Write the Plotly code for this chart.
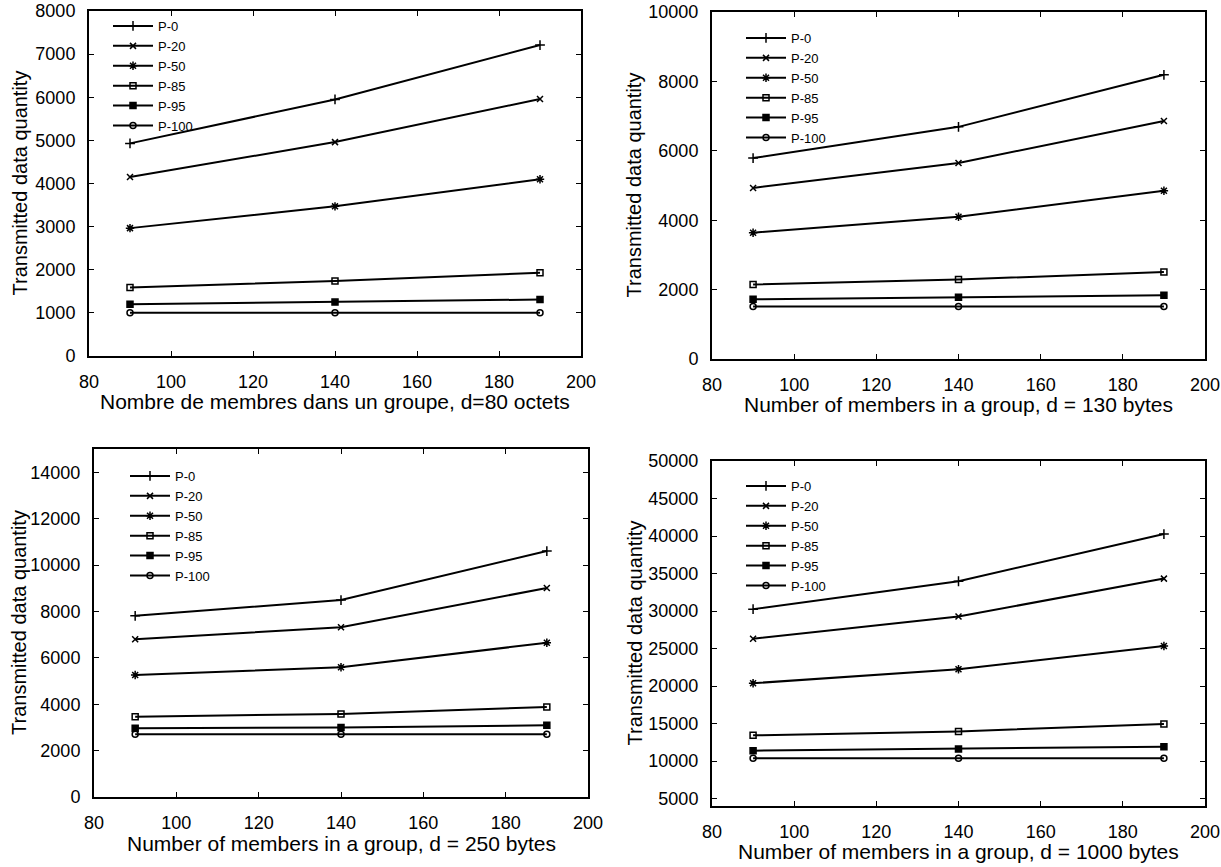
import plotly.graph_objects as go

# ---------------- data ----------------
members = [90, 140, 190]
series_names = ["P-0", "P-20", "P-50", "P-85", "P-95", "P-100"]

# d = 80 octets
d80_p0 = [4930, 5950, 7210]
d80_p20 = [4150, 4960, 5960]
d80_p50 = [2965, 3470, 4100]
d80_p85 = [1590, 1740, 1930]
d80_p95 = [1200, 1250, 1310]
d80_p100 = [1000, 1000, 1000]

# d = 130 bytes
d130_p0 = [5790, 6690, 8190]
d130_p20 = [4930, 5650, 6860]
d130_p50 = [3640, 4100, 4850]
d130_p85 = [2150, 2290, 2510]
d130_p95 = [1720, 1780, 1840]
d130_p100 = [1510, 1510, 1510]

# d = 250 bytes
d250_p0 = [7810, 8490, 10600]
d250_p20 = [6800, 7320, 9010]
d250_p50 = [5260, 5590, 6650]
d250_p85 = [3460, 3580, 3880]
d250_p95 = [2960, 3000, 3090]
d250_p100 = [2700, 2700, 2700]

# d = 1000 bytes
d1000_p0 = [30250, 33970, 40260]
d1000_p20 = [26300, 29270, 34320]
d1000_p50 = [20370, 22230, 25330]
d1000_p85 = [13420, 13950, 14920]
d1000_p95 = [11380, 11600, 11910]
d1000_p100 = [10380, 10380, 10380]

x_titles = [
    "Nombre de membres dans un groupe, d=80 octets",
    "Number of members in a group, d = 130 bytes",
    "Number of members in a group, d = 250 bytes",
    "Number of members in a group, d = 1000 bytes",
]
y_title = "Transmitted data quantity"

panels = [
    [d80_p0, d80_p20, d80_p50, d80_p85, d80_p95, d80_p100],
    [d130_p0, d130_p20, d130_p50, d130_p85, d130_p95, d130_p100],
    [d250_p0, d250_p20, d250_p50, d250_p85, d250_p95, d250_p100],
    [d1000_p0, d1000_p20, d1000_p50, d1000_p85, d1000_p95, d1000_p100],
]

x_range = [80, 200]
x_ticks = [80, 100, 120, 140, 160, 180, 200]
y_ranges = [[0, 8000], [0, 10000], [0, 15000], [4000, 50000]]
y_ticks = [
    [0, 1000, 2000, 3000, 4000, 5000, 6000, 7000, 8000],
    [0, 2000, 4000, 6000, 8000, 10000],
    [0, 2000, 4000, 6000, 8000, 10000, 12000, 14000],
    [5000, 10000, 15000, 20000, 25000, 30000, 35000, 40000, 45000, 50000],
]

# ---------------- layout geometry (page pixels) ----------------
W, H = 1221, 867


def px(xp):
    return xp / W


def py(yp):
    return 1 - yp / H


boxes = [  # left, right, top, bottom in pixels
    (89, 581, 11, 356),
    (712, 1205, 12, 359),
    (94, 588, 449, 797),
    (712, 1205, 461, 806),
]
legend_pos = [  # left, top in pixels
    (108, 11),
    (741, 23),
    (125, 461),
    (741, 471),
]
xtitle_y = [401, 404, 843, 851]
ytitle_x = [19, 633, 19, 634]

symbols = ["cross-thin-open", "x-thin-open", "asterisk-open",
           "square-open", "square", "circle-open"]
sizes = [7, 6, 7, 6, 6, 6]

FONT = "Liberation Sans, Arial, sans-serif"

fig = go.Figure()
layout = dict(
    width=W, height=H,
    margin=dict(l=0, r=0, t=0, b=0, autoexpand=False),
    paper_bgcolor="white", plot_bgcolor="white",
    font=dict(family=FONT, color="black", size=18),
)
annotations = []

for i, (series, box) in enumerate(zip(panels, boxes)):
    n = i + 1
    xa = "x" if n == 1 else f"x{n}"
    ya = "y" if n == 1 else f"y{n}"
    leg = "legend" if n == 1 else f"legend{n}"
    for name, vals, sym, sz in zip(series_names, series, symbols, sizes):
        fig.add_trace(go.Scatter(
            x=members, y=vals, name=name, mode="lines+markers",
            xaxis=xa, yaxis=ya, legend=leg,
            line=dict(color="black", width=2),
            marker=dict(symbol=sym, size=sz, color="black",
                        line=dict(color="black", width=1.5)),
        ))
    l, r, t, b = box
    axis_common = dict(
        showgrid=False, zeroline=False, showline=True, linecolor="black",
        linewidth=2, mirror="allticks", ticks="inside", ticklen=5,
        tickwidth=1, tickcolor="black", tickformat="d",
        ticklabelstandoff=8, automargin=False,
        tickfont=dict(size=18, family=FONT, color="black"),
    )
    layout["xaxis" if n == 1 else f"xaxis{n}"] = dict(
        domain=[px(l), px(r)], anchor=ya, range=x_range,
        tickvals=x_ticks, **axis_common,
    )
    layout["yaxis" if n == 1 else f"yaxis{n}"] = dict(
        domain=[py(b), py(t)], anchor=xa, range=y_ranges[i],
        tickvals=y_ticks[i], **axis_common,
    )
    annotations.append(dict(
        text=x_titles[i], xref="paper", yref="paper",
        x=px((l + r) / 2), y=py(xtitle_y[i]),
        xanchor="center", yanchor="middle", showarrow=False,
        font=dict(size=21, family=FONT, color="black"),
    ))
    annotations.append(dict(
        text=y_title, xref="paper", yref="paper", textangle=-90,
        x=px(ytitle_x[i]), y=py((t + b) / 2),
        xanchor="center", yanchor="middle", showarrow=False,
        font=dict(size=20, family=FONT, color="black"),
    ))
    lx, ly = legend_pos[i]
    layout[leg] = dict(
        x=px(lx), y=py(ly), xanchor="left", yanchor="top",
        bgcolor="rgba(0,0,0,0)", borderwidth=0,
        font=dict(size=13, family=FONT, color="black"),
        tracegroupgap=0, itemwidth=40,
    )

layout["annotations"] = annotations
fig.update_layout(**layout)
fig.write_html(
    "out.html",
    config={"displayModeBar": False},
    post_script="document.body.style.margin='0';document.body.style.overflow='hidden';",
)
